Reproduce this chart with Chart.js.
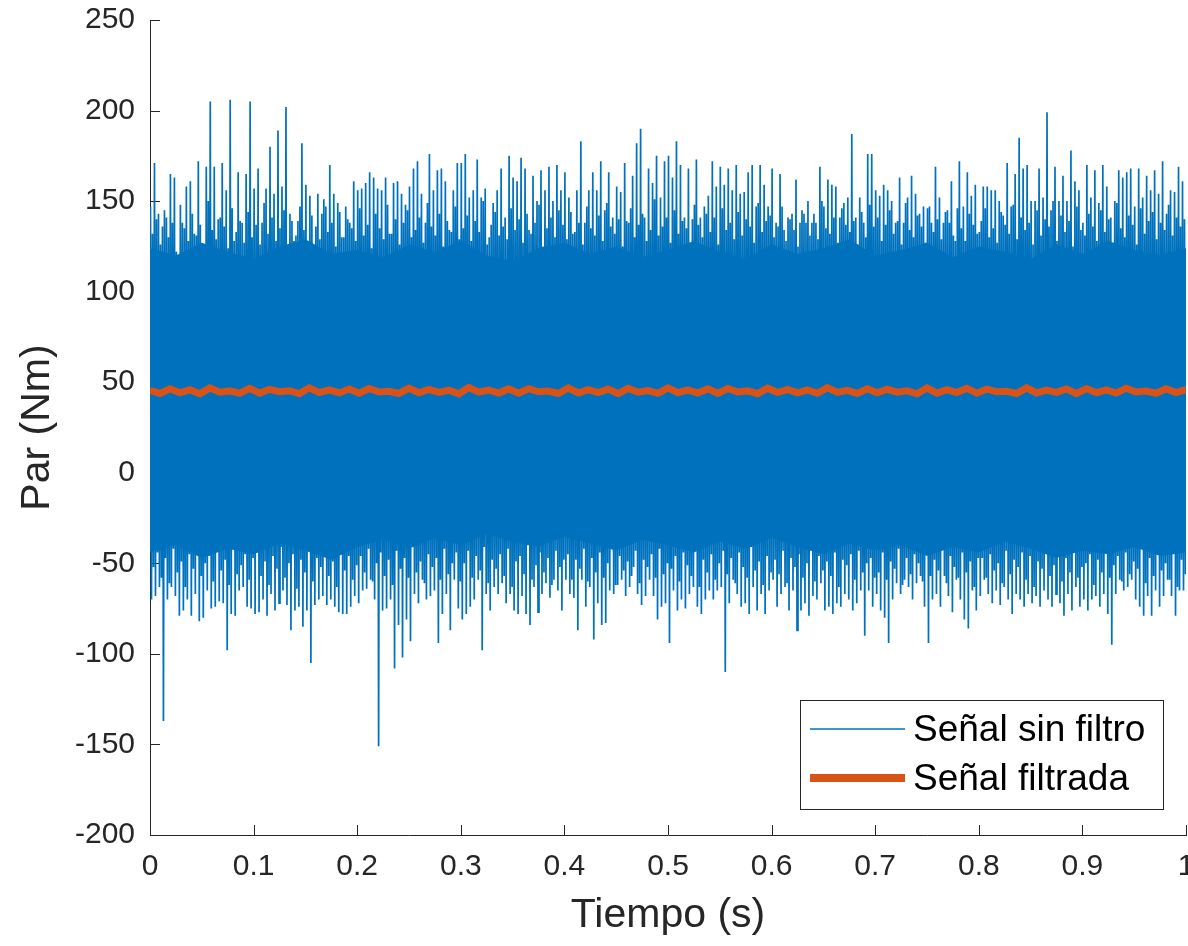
<!DOCTYPE html>
<html>
<head>
<meta charset="utf-8">
<script src="https://cdn.jsdelivr.net/npm/chart.js@4.4.1/dist/chart.umd.min.js"></script>
<style>
  html, body { margin: 0; padding: 0; background: #fff; }
  #caja { width: 1188px; height: 946px; }
</style>
</head>
<body>
<div id="caja"><canvas id="grafico-par"></canvas></div>
<script>
const picosSup = [
  147,171,143,136,141,165,163,119,138,158,161,132,172,110,169,205,169,140,171,156,206,128,166,138,165,
  205,157,168,138,157,180,154,189,158,202,143,128,139,182,159,153,115,154,143,147,170,154,149,130,147,
  138,161,156,157,160,166,163,157,156,163,132,160,161,154,148,
  158,168,172,154,138,176,156,167,168,161,134,156,171,171,176,152,156,173,152,157,130,149,156,168,141,
  175,163,161,174,168,134,164,150,167,156,169,150,170,156,166,152,132,156,183,138,156,166,156,172,145,
  166,141,158,155,171,138,164,182,190,141,168,160,175,152,172,
  175,163,183,170,141,168,140,173,141,147,153,172,158,169,159,168,156,170,154,155,166,170,147,170,159,
  147,168,138,165,134,141,143,162,138,143,150,138,138,169,147,162,159,158,141,149,152,187,141,152,138,
  176,176,156,153,159,156,150,138,163,138,152,164,154,143,147,
  146,138,169,152,138,145,161,128,172,147,166,153,159,133,158,158,156,156,150,142,171,147,165,185,168,
  170,150,150,168,152,199,145,169,150,164,150,178,161,156,138,170,152,167,149,170,158,141,150,167,163,
  166,168,147,168,152,164,156,167,154,172,143,156,155,169,161
];
const picosInf = [
  -70,-68,-63,-137,-70,-63,-68,-79,-76,-70,-79,-67,-82,-80,-65,-75,-74,-71,-72,-98,-78,-79,-65,-63,-74,
  -75,-78,-77,-70,-79,-67,-76,-72,-65,-73,-87,-76,-74,-85,-76,-105,-73,-70,-68,-73,-70,-74,-77,-78,-78,
  -74,-68,-72,-65,-64,-59,-70,-151,-76,-75,-70,-108,-84,-102,-81,
  -93,-67,-72,-59,-70,-68,-65,-94,-78,-67,-87,-59,-75,-81,-78,-74,-70,-59,-98,-67,-76,-63,-67,-61,-72,
  -67,-76,-78,-68,-78,-84,-63,-77,-67,-61,-69,-59,-65,-76,-59,-67,-69,-87,-59,-74,-63,-92,-72,-84,-83,
  -65,-67,-62,-59,-68,-63,-52,-67,-73,-68,-59,-68,-81,-74,-72,
  -94,-65,-76,-70,-75,-67,-63,-74,-78,-70,-65,-70,-65,-63,-110,-72,-59,-67,-74,-72,-78,-63,-76,-67,-78,
  -65,-59,-74,-67,-63,-76,-65,-87,-76,-72,-79,-68,-70,-61,-76,-74,-78,-72,-74,-67,-70,-76,-72,-65,-90,
  -65,-74,-67,-76,-80,-94,-70,-61,-67,-59,-63,-70,-61,-57,-74,
  -94,-70,-67,-74,-57,-68,-77,-59,-70,-81,-86,-65,-76,-68,-59,-67,-72,-65,-73,-63,-70,-78,-67,-70,-74,
  -67,-72,-68,-74,-65,-70,-74,-67,-72,-79,-67,-76,-63,-74,-70,-76,-70,-68,-74,-67,-78,-95,-67,-59,-65,
  -63,-59,-70,-74,-79,-68,-79,-65,-74,-68,-59,-68,-79,-65,-65
];
// oscilaciones secundarias, de menor amplitud, entre los picos anteriores
const secSup = [
  132,140,126,145,130,138,122,148,135,128,143,131,137,125,150,134,129,141,136,124,146,133,139,127,144,130,
  137,126,149,132,141,128,135,145,123,139,131,147,134,127,142,136,129,151,133,138,125,144,130,140,135,128,
  146,131,137,124,143,135,129,148,132,140,126,138,145,130,134,141,127,149,136,131,143,125,139,133,147,129,
  135,142,128,139,133,150,126,137,144,131,136,129,146,134,140,127,143,132,138,148,125,135,141,130,145,137,
  129,144,133,138,126,147,135,131,142,128,149,136,132,140,125,139,146,130,137,143,128,134,151,131,136,141,
  127,145,132,139,135,124,148,137,130,143,133,141,126,146,134,138,129,144,131,140,136,127,149,133,139,142,
  130,136,147,128,140,134,125,145,138,131,143,129,150,135,132,141,127,146,137,133,139,126,144,130,148,136,
  141,128,137,145,132,139,126,149,134,130,142,136,127,147,133,140,129,144,138,131,146,135,128,143,137,132,
  139,146,130,135,127,144,137,132,148,129,141,134,138,126,145,131,140,136,150,128,142,133,139,125,147,134,
  131,143,136,128,145,133,140,127,149,135,130,142,137,126,146,132,139,144,129,138,134,148,131,141,136,140
];
const secInf = [
  -52,-44,-58,-47,-61,-42,-55,-49,-63,-45,-53,-40,-57,-50,-46,-60,-43,-54,-48,-62,-41,-56,-51,-45,-59,-47,
  -44,-57,-49,-62,-46,-53,-41,-58,-50,-45,-64,-48,-55,-42,-60,-47,-52,-44,-57,-49,-63,-43,-54,-46,-59,-51,
  -46,-55,-42,-60,-50,-44,-57,-48,-62,-43,-53,-47,-58,-41,-55,-49,-61,-45,-52,-47,-59,-42,-56,-50,-44,-60,
  -50,-43,-58,-46,-54,-41,-61,-48,-53,-45,-57,-42,-63,-49,-46,-56,-40,-59,-51,-44,-55,-47,-62,-43,-52,-48,
  -45,-59,-48,-53,-42,-60,-47,-55,-44,-58,-50,-41,-62,-46,-54,-49,-57,-43,-61,-48,-52,-45,-58,-42,-56,-50,
  -53,-46,-60,-44,-51,-57,-42,-63,-48,-55,-45,-59,-50,-43,-56,-47,-61,-44,-52,-58,-41,-54,-49,-62,-46,-55,
  -48,-56,-43,-61,-47,-52,-45,-58,-50,-42,-60,-46,-54,-49,-57,-44,-63,-48,-51,-45,-59,-43,-55,-50,-47,-58,
  -55,-44,-59,-49,-53,-42,-62,-47,-56,-45,-50,-60,-43,-57,-48,-54,-41,-61,-46,-52,-58,-44,-55,-49,-63,-47,
  -47,-58,-45,-54,-50,-61,-43,-56,-48,-52,-44,-59,-46,-63,-49,-53,-42,-57,-51,-45,-60,-47,-55,-43,-58,-52,
  -50,-45,-62,-48,-55,-43,-58,-51,-46,-60,-44,-56,-49,-53,-42,-61,-47,-57,-45,-54,-50,-59,-44,-63,-48,-56
];

// Zona densa (practicamente solida) de la senal sin filtro
const tiempoEnv = [
  0,0.025,0.05,0.075,0.1,0.125,0.15,0.175,0.2,0.225,0.25,0.275,0.3,0.325,0.35,0.375,0.4,0.425,0.45,0.475,
  0.5,0.525,0.55,0.575,0.6,0.625,0.65,0.675,0.7,0.725,0.75,0.775,0.8,0.825,0.85,0.875,0.9,0.925,0.95,0.975,1
];
const envSup = [
  124,120,127,122,118,125,129,121,123,119,126,122,128,120,117,124,127,121,125,119,
  123,128,122,118,126,121,124,129,120,123,127,119,125,122,118,126,121,128,123,120,124
];
const envInf = [
  -44,-40,-47,-42,-45,-39,-43,-48,-41,-37,-42,-36,-40,-34,-38,-41,-35,-39,-43,-37,
  -40,-44,-38,-42,-36,-41,-45,-39,-43,-40,-46,-41,-44,-38,-42,-47,-43,-45,-41,-46,-44
];

// Senal filtrada
const filtrada = [
  45.5,43.8,46.4,44.2,45.9,43.6,46.8,44.5,45.2,43.9,46.6,44.0,46.1,44.8,45.3,43.7,46.9,44.3,45.8,44.1,
  46.2,43.9,46.5,44.6,45.0,43.8,46.7,44.2,46.0,44.4,45.6,43.6,47.1,44.5,45.7,44.0,46.3,43.9,46.4,44.7,
  45.1,43.8,46.8,44.1,45.9,44.3,46.2,43.7,46.6,44.5,45.4,43.9,46.9,44.2,45.8,44.0,46.3,43.8,46.5,44.6,
  45.2,43.7,46.7,44.3,46.0,44.1,45.7,43.9,47.0,44.4,45.5,43.8,46.4,44.2,46.1,44.5,45.3,43.6,46.8,44.0,
  45.9,44.3,46.6,43.9,46.2,44.7,45.0,43.8,46.9,44.1,45.6,44.4,46.3,43.7,46.5,44.2,45.8,44.0,46.7,44.6,
  45.1,43.9,46.4,44.3,46.0
];

const ticksX = [0,0.1,0.2,0.3,0.4,0.5,0.6,0.7,0.8,0.9,1];
const ticksY = [-200,-150,-100,-50,0,50,100,150,200,250];

const azul = '#0072BD';
const naranja = '#D95319';
const gris = '#262626';

// puntos: pico, valle, pico secundario, valle secundario
const nPicos = picosSup.length;
const sinFiltro = [];
for (let i = 0; i < nPicos; i++) {
  sinFiltro.push({x: (i + 0.125) / nPicos, y: picosSup[i]});
  sinFiltro.push({x: (i + 0.375) / nPicos, y: picosInf[i]});
  sinFiltro.push({x: (i + 0.625) / nPicos, y: secSup[i]});
  sinFiltro.push({x: (i + 0.875) / nPicos, y: secInf[i]});
}
const conFiltro = filtrada.map((v, i) => ({x: i / (filtrada.length - 1), y: v}));

// marcas de los ejes hacia dentro (estilo MATLAB)
const marcas = {
  id: 'marcas',
  beforeDatasetsDraw(chart) {
    const {ctx, chartArea, scales} = chart;
    ctx.save();
    ctx.strokeStyle = gris;
    ctx.lineWidth = 1;
    ctx.beginPath();
    scales.x.ticks.forEach((t, i) => {
      const px = Math.round(scales.x.getPixelForTick(i)) + 0.5;
      ctx.moveTo(px, chartArea.bottom);
      ctx.lineTo(px, chartArea.bottom - 10);
    });
    scales.y.ticks.forEach((t, i) => {
      const py = Math.round(scales.y.getPixelForTick(i)) + 0.5;
      ctx.moveTo(chartArea.left, py);
      ctx.lineTo(chartArea.left + 10, py);
    });
    ctx.stroke();
    ctx.restore();
  }
};

// leyenda dentro del area, abajo a la derecha
const leyenda = {
  id: 'leyenda',
  afterDatasetsDraw(chart) {
    const {ctx, chartArea} = chart;
    const items = chart.data.datasets.filter(d => d.anchoLeyenda);
    const w = 363, h = 109;
    const x0 = chartArea.right - 23 - w;
    const y0 = chartArea.bottom - 26 - h;
    ctx.save();
    ctx.fillStyle = '#fff';
    ctx.fillRect(x0, y0, w, h);
    ctx.strokeStyle = gris;
    ctx.lineWidth = 1;
    ctx.strokeRect(x0 + 0.5, y0 + 0.5, w, h);
    ctx.font = '37px "Liberation Sans", Arial, sans-serif';
    ctx.textBaseline = 'middle';
    ctx.fillStyle = '#000';
    items.forEach((d, i) => {
      const y = y0 + 29 + i * 49;
      ctx.strokeStyle = d.borderColor;
      ctx.lineWidth = d.anchoLeyenda;
      ctx.beginPath();
      ctx.moveTo(x0 + 10, y);
      ctx.lineTo(x0 + 105, y);
      ctx.stroke();
      ctx.fillText(d.label, x0 + 113, y + 2);
    });
    ctx.restore();
  }
};

const ctx = document.getElementById('grafico-par').getContext('2d');
const grafico = new Chart(ctx, {
  type: 'line',
  data: {
    datasets: [
      {
        label: 'Señal sin filtro',
        data: sinFiltro,
        borderColor: azul,
        borderWidth: 1.7,
        pointRadius: 0,
        tension: 0,
        fill: false,
        anchoLeyenda: 1.5,
        order: 1
      },
      {
        label: 'Señal filtrada',
        data: conFiltro,
        borderColor: naranja,
        borderWidth: 7,
        pointRadius: 0,
        tension: 0,
        fill: false,
        anchoLeyenda: 8,
        order: 0
      },
      {
        label: 'env sup',
        data: tiempoEnv.map((t, i) => ({x: t, y: envSup[i]})),
        borderWidth: 0,
        borderColor: azul,
        backgroundColor: azul,
        pointRadius: 0,
        fill: '+1',
        order: 2
      },
      {
        label: 'env inf',
        data: tiempoEnv.map((t, i) => ({x: t, y: envInf[i]})),
        borderWidth: 0,
        borderColor: azul,
        pointRadius: 0,
        fill: false,
        order: 2
      }
    ]
  },
  options: {
    responsive: true,
    maintainAspectRatio: false,
    animation: false,
    events: [],
    layout: { padding: { top: 20, right: 2, left: 0, bottom: 0 } },
    plugins: {
      legend: { display: false },
      tooltip: { enabled: false }
    },
    scales: {
      x: {
        type: 'linear',
        min: 0,
        max: 1,
        afterBuildTicks: s => { s.ticks = ticksX.map(v => ({value: v})); },
        afterFit: s => { s.height = 111; s.paddingLeft = 0; s.paddingRight = 0; },
        ticks: {
          color: gris,
          padding: 14,
          maxRotation: 0,
          autoSkip: false,
          font: { family: '"Liberation Sans", Arial, sans-serif', size: 30 },
          callback: v => String(Number(v.toFixed(1)))
        },
        grid: { display: true, drawOnChartArea: false, drawTicks: false },
        border: { display: true, color: gris, width: 1 },
        title: {
          display: true,
          text: 'Tiempo (s)',
          color: gris,
          padding: { top: 0, bottom: 6 },
          font: { family: '"Liberation Sans", Arial, sans-serif', size: 41 }
        }
      },
      y: {
        type: 'linear',
        min: -200,
        max: 250,
        afterBuildTicks: s => { s.ticks = ticksY.map(v => ({value: v})); },
        afterFit: s => { s.width = 150; s.paddingTop = 0; s.paddingBottom = 0; },
        ticks: {
          color: gris,
          padding: 15,
          autoSkip: false,
          font: { family: '"Liberation Sans", Arial, sans-serif', size: 30 }
        },
        grid: { display: true, drawOnChartArea: false, drawTicks: false },
        border: { display: true, color: gris, width: 1 },
        title: {
          display: true,
          text: 'Par (Nm)',
          color: gris,
          padding: { top: 13, bottom: 0 },
          font: { family: '"Liberation Sans", Arial, sans-serif', size: 41 }
        }
      }
    }
  },
  plugins: [marcas, leyenda]
});
</script>
</body>
</html>
